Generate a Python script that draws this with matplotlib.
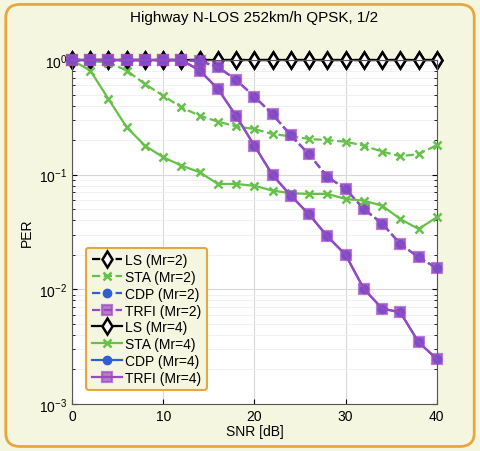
import matplotlib.pyplot as plt
from matplotlib.patches import FancyBboxPatch

snr = list(range(0, 41, 2))

ls_mr2 = [1.0] * 21
ls_mr4 = [1.0] * 21

sta_mr2 = [1.0, 0.98, 0.95, 0.81, 0.617, 0.489, 0.386, 0.327, 0.29, 0.264, 0.25,
           0.226, 0.216, 0.205, 0.2, 0.194, 0.179, 0.159, 0.145, 0.151, 0.181]
sta_mr4 = [1.0, 0.81, 0.457, 0.259, 0.179, 0.142, 0.12, 0.105, 0.083, 0.083, 0.080,
           0.0726, 0.0688, 0.068, 0.068, 0.0614, 0.0593, 0.0537, 0.041, 0.0336, 0.0425]

trfi_mr2 = [1.0, 1.0, 1.0, 1.0, 1.0, 1.0, 1.0, 0.98, 0.87, 0.67, 0.48,
            0.335, 0.22, 0.15, 0.096, 0.075, 0.0502, 0.0375, 0.0249, 0.019, 0.0153]
trfi_mr4 = [1.0, 1.0, 1.0, 1.0, 1.0, 1.0, 1.0, 0.81, 0.56, 0.325, 0.179,
            0.099, 0.0656, 0.045, 0.029, 0.02, 0.0101, 0.0068, 0.0063, 0.00346, 0.00247]
cdp_mr2 = trfi_mr2
cdp_mr4 = trfi_mr4

labels = ['LS (Mr=2)', 'STA (Mr=2)', 'CDP (Mr=2)', 'TRFI (Mr=2)',
          'LS (Mr=4)', 'STA (Mr=4)', 'CDP (Mr=4)', 'TRFI (Mr=4)']

bg = '#f4f6df'
green = '#66c04a'
blue = '#2f5fd0'
purple = '#9a48c4'

plt.rcParams['font.family'] = ['Liberation Sans', 'DejaVu Sans']
fig = plt.figure(figsize=(4.8, 4.52), dpi=100, facecolor=bg)
fig.patches.append(FancyBboxPatch((0.012, 0.01), 0.976, 0.978, boxstyle='round,pad=0,rounding_size=0.03',
                                  transform=fig.transFigure, fc=bg, ec='#e9a63c', lw=2, zorder=-1))
ax = fig.add_axes([0.15, 0.104, 0.76, 0.761])

kw = dict(clip_on=False, lw=1.6)
ax.plot(snr, ls_mr2, '--', color='black', marker='d', ms=8, mfc='white', mew=1.8, label=labels[0], zorder=2, **kw)
ax.plot(snr, sta_mr2, '--', color=green, marker='x', ms=6, mew=1.8, label=labels[1], zorder=3, **kw)
ax.plot(snr, cdp_mr2, '--', color=blue, marker='o', ms=6, mfc=blue, label=labels[2], zorder=3, **kw)
ax.plot(snr, trfi_mr2, '--', color=purple, marker='s', ms=7.5, mfc='#9a48c4b0', mew=1.6, label=labels[3], zorder=3, **kw)
ax.plot(snr, ls_mr4, '-', color='black', marker='d', ms=8, mfc='white', mew=1.8, label=labels[4], zorder=2, **kw)
ax.plot(snr, sta_mr4, '-', color=green, marker='x', ms=6, mew=1.8, label=labels[5], zorder=3, **kw)
ax.plot(snr, cdp_mr4, '-', color=blue, marker='o', ms=6, mfc=blue, label=labels[6], zorder=3, **kw)
ax.plot(snr, trfi_mr4, '-', color=purple, marker='s', ms=7.5, mfc='#9a48c4b0', mew=1.6, label=labels[7], zorder=3, **kw)

ax.set_yscale('log')
ax.set_xlim(0, 40)
ax.set_ylim(1e-3, 1)
ax.set_xticks([0, 10, 20, 30, 40])
ax.grid(True, which='major', color='#d8d8d8', lw=0.8)
ax.grid(True, which='minor', color='#efefef', lw=0.6)
ax.tick_params(direction='in', which='both', top=True, right=True, labelsize=10)
for s in ax.spines.values():
    s.set_color('#555555')
ax.set_title('Highway N-LOS 252km/h QPSK, 1/2', fontsize=11, pad=28)
ax.set_xlabel('SNR [dB]', fontsize=10, labelpad=1)
ax.set_ylabel('PER', fontsize=10)

leg = ax.legend(loc='lower left', bbox_to_anchor=(0.02, 0.02), fontsize=10, handlelength=2.2,
                handletextpad=0.2, labelspacing=0.2, borderpad=0.4, fancybox=True,
                facecolor=bg, edgecolor='#e9a63c', framealpha=1)
leg.get_frame().set_linewidth(1.5)
leg.set_zorder(5)

fig.savefig('out.png', dpi=100, facecolor=bg)
